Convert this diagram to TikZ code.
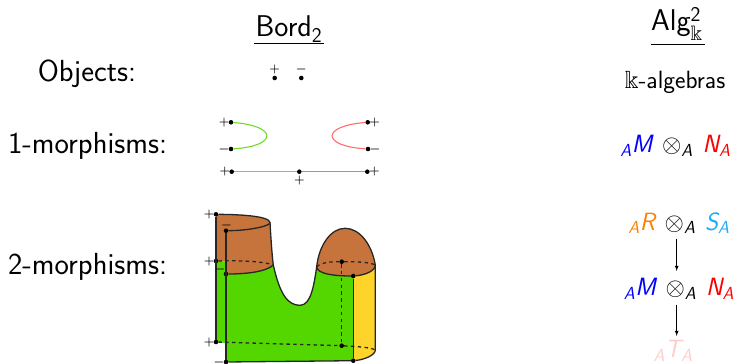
\documentclass[tikz,border=0pt]{standalone}
\usepackage{amsmath}
\usepackage{amssymb}
\renewcommand{\familydefault}{\sfdefault}

\definecolor{brownsurf}{RGB}{198,116,60}
\definecolor{greensurf}{RGB}{84,214,0}
\definecolor{yellowsurf}{RGB}{255,212,42}
\definecolor{greenline}{RGB}{110,220,40}
\definecolor{redline}{RGB}{255,110,110}
\definecolor{skyalg}{RGB}{30,170,245}

\newcommand{\mi}[1]{\text{\sffamily\itshape #1}}

\tikzset{
  pt/.style={circle,fill=black,inner sep=0pt,minimum size=4.6pt},
  lab/.style={font=\fontsize{30.5}{36}\selectfont,inner sep=0pt},
  head/.style={font=\fontsize{30}{36}\selectfont,inner sep=0pt},
  sgn/.style={font=\fontsize{13}{15}\selectfont\boldmath,inner sep=0pt},
  alg/.style={font=\fontsize{25}{30}\selectfont,inner sep=0pt},
  edge/.style={line width=1.3pt,black!85},
  hidden/.style={edge,dash pattern=on 3.4pt off 3.4pt},
}

\begin{document}
\begin{tikzpicture}[x=1pt,y=-1pt]
            \useasboundingbox (0,0) rectangle (734,364);

            % headings
            \node[head] (bord) at (289,29) {Bord$_{\text{2}}$};
            \node[head] (alg) at (677,24) {Alg$^{\text{2}}_{\Bbbk}$};
            \coordinate (bordl) at (254,43.5);
            \coordinate (bordr) at (324,43.5);
            \coordinate (algl) at (651,44.5);
            \coordinate (algr) at (705,44.5);
            \draw[line width=0.9pt] (bordl) -- (bordr);
            \draw[line width=0.9pt] (algl) -- (algr);

            \node[lab] (objects) at (87,74) {Objects:};
            \node[lab] (onemor) at (87.5,145.5) {1-morphisms:};
            \node[lab] (twomor) at (87.5,267) {2-morphisms:};

            % objects
            \node[pt] (op) at (274.7,78) {};
            \node[pt] (om) at (301.3,78) {};
            \node[sgn] (ops) at (274.7,69) {$+$};
            \node[sgn] (oms) at (301.3,69) {$-$};

            % 1-morphisms
            \node[pt] (gt) at (231,122.3) {};
            \node[pt] (gb) at (231,149) {};
            \node[pt] (rt) at (367.7,122.3) {};
            \node[pt] (rb) at (368,149) {};
            \node[pt] (ll) at (231.7,171.7) {};
            \node[pt] (lm) at (299.3,171.7) {};
            \node[pt] (lr) at (367.3,171.7) {};
            \draw[greenline,line width=1.1pt] (gt) .. controls (278,126) and (278,146) .. (gb);
            \draw[redline,line width=1.1pt] (rt) .. controls (321,126) and (321,146) .. (rb);
            \draw[greenline,line width=1.1pt] (ll) -- (lm);
            \draw[redline,line width=1.1pt] (lm) -- (lr);
            \node[sgn,left=1.5pt] (gts) at (gt) {$+$};
            \node[sgn,left=1.5pt] (gbs) at (gb) {$-$};
            \node[sgn,right=1.5pt] (rts) at (rt) {$+$};
            \node[sgn,right=1.5pt] (rbs) at (rb) {$-$};
            \node[sgn,left=1.5pt] (lls) at (ll) {$+$};
            \node[sgn,right=1.5pt] (lrs) at (lr) {$+$};
            \node[sgn] (lms) at (299.3,180) {$+$};

            % 2-morphism surface
            \coordinate (tc) at (270,222.7);
            \coordinate (ml) at (273.3,265);
            \coordinate (ur) at (316.7,266.7);
            \coordinate (hr) at (375.3,265);
            \coordinate (br) at (375.3,350);

            \fill[yellowsurf] (353.3,276) .. controls (365,275) and (375.3,271) .. (hr) -- (br)
                .. controls (375.3,355) and (365,359.5) .. (353.3,360.7) -- cycle;
            \fill[greensurf] (216,261) -- (216,342) -- (226,343) -- (226,362) -- (353.3,360.7) -- (353.3,276)
                .. controls (335,276) and (316.7,274) .. (ur)
                .. controls (314,285) and (311,305.3) .. (300,305.3)
                .. controls (288,305.3) and (280,295) .. (ml)
                .. controls (266,272) and (245,274) .. (226,274) -- (226,261.5) -- cycle;
            \fill[brownsurf] (216,214.3) .. controls (240,214.5) and (270,216) .. (tc)
                .. controls (271,240) and (272,255) .. (ml)
                .. controls (266,272) and (245,274) .. (226,274) -- (226,261.5) -- (216,261) -- cycle;
            \fill[brownsurf] (ur) .. controls (319,245) and (331,228.3) .. (345,228.3)
                .. controls (360,228.3) and (372,245) .. (hr)
                .. controls (375.3,271) and (365,275) .. (353.3,276)
                .. controls (335,276) and (316.7,274) .. (ur) -- cycle;

            \node[pt] (a) at (216,214.3) {};
            \node[pt] (b) at (226,230.7) {};
            \node[pt] (c) at (216,261) {};
            \node[pt] (d) at (226,274) {};
            \node[pt] (e) at (216,342) {};
            \node[pt] (f) at (226,362) {};
            \node[pt] (g) at (353.3,276) {};
            \node[pt] (h) at (353.3,360.7) {};
            \node[pt] (p) at (341.7,261.7) {};
            \node[pt] (q) at (341.7,345.7) {};

            \draw[edge] (a) .. controls (240,214.5) and (270,216) .. (tc)
                .. controls (270,226) and (250,230.5) .. (b);
            \draw[edge] (tc) .. controls (271,240) and (272,255) .. (ml)
                .. controls (280,295) and (288,305.3) .. (300,305.3)
                .. controls (311,305.3) and (314,285) .. (ur)
                .. controls (319,245) and (331,228.3) .. (345,228.3)
                .. controls (360,228.3) and (372,245) .. (hr) -- (br);
            \draw[edge] (ml) .. controls (266,272) and (245,274) .. (d);
            \draw[edge] (ur) .. controls (316.7,274) and (335,276) .. (g)
                .. controls (365,275) and (375.3,271) .. (hr);
            \draw[edge] (a) -- (e);
            \draw[edge] (b) -- (f);
            \draw[edge] (g) -- (h);
            \draw[edge] (f) -- (h) .. controls (365,359.5) and (375.3,355) .. (br);
            \draw[hidden] (c) .. controls (240,260.5) and (262,261) .. (ml);
            \draw[hidden] (ur) .. controls (322,262) and (332,261.7) .. (p)
                .. controls (355,261.7) and (370,262) .. (hr);
            \draw[hidden] (p) -- (q);
            \draw[hidden] (e) -- (q);
            \draw[hidden] (q) .. controls (355,346.5) and (370,347) .. (br);

            \node[sgn,left=1.5pt] (as) at (a) {$+$};
            \node[sgn] (bs) at (226.5,225) {$-$};
            \node[sgn,left=1.5pt] (cs) at (c) {$+$};
            \node[sgn] (ds) at (220,269.5) {$-$};
            \node[sgn,left=1.5pt] (es) at (e) {$+$};
            \node[sgn,left=1.5pt] (fs) at (f) {$-$};

            % algebra column
            \node[alg] (kalg) at (675,82) {$\Bbbk$-algebras};
            \node[alg] (mn) at (675.5,146) {$\textcolor{blue}{{}_{\mi{A}}\mi{M}}\,\otimes_{\mi{A}}\,\textcolor{red}{\mi{N}_{\mi{A}}}$};
            \node[alg] (rs) at (679,223) {$\textcolor{orange}{{}_{\mi{A}}\mi{R}}\,\otimes_{\mi{A}}\,\textcolor{skyalg}{\mi{S}_{\mi{A}}}$};
            \node[alg] (mn2) at (679,289) {$\textcolor{blue}{{}_{\mi{A}}\mi{M}}\,\otimes_{\mi{A}}\,\textcolor{red}{\mi{N}_{\mi{A}}}$};
            \node[alg,text=red!20] (ta) at (673,351) {${}_{\mi{A}}\mi{T}_{\mi{A}}$};
            \coordinate (rsb) at (676.7,238.5);
            \coordinate (mnt) at (676.7,271);
            \coordinate (mnb) at (676.7,304.5);
            \coordinate (tat) at (676.7,336);
            \draw[-latex,line width=0.8pt] (rsb) -- (mnt);
            \draw[-latex,line width=0.8pt] (mnb) -- (tat);
        \end{tikzpicture}
\end{document}
